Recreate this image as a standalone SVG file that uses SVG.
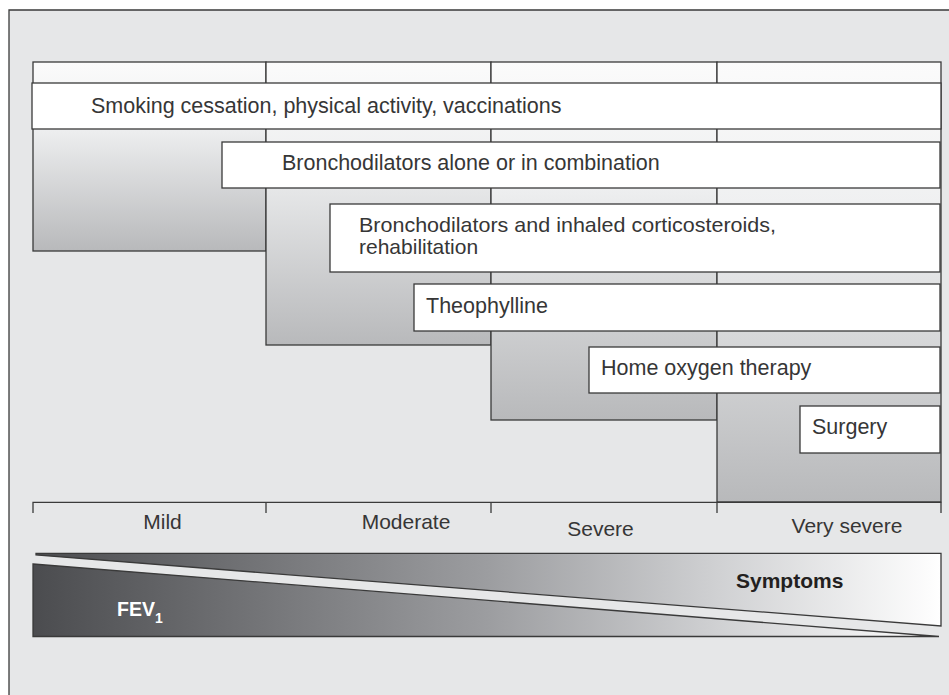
<svg xmlns="http://www.w3.org/2000/svg" width="949" height="695" viewBox="0 0 949 695">
<style>
.col{stroke:#3a3a3a;stroke-width:1.3;fill:url(#colGrad)}
.bar{fill:#ffffff;stroke:#3a3a3a;stroke-width:1.3}
.t{font-family:"Liberation Sans",Arial,Helvetica,sans-serif;font-size:21.5px;fill:#363636}
.t2{font-family:"Liberation Sans",Arial,Helvetica,sans-serif;font-size:21px;fill:#363636}
.ax{font-family:"Liberation Sans",Arial,Helvetica,sans-serif;font-size:21px;fill:#363636;text-anchor:middle}
.ln{stroke:#3a3a3a;stroke-width:1.3;fill:none}
</style>
<defs>
<linearGradient id="colGrad" x1="0" y1="0" x2="0" y2="1">
<stop offset="0" stop-color="#fbfbfb"/>
<stop offset="0.35" stop-color="#eeeff0"/>
<stop offset="1" stop-color="#b8b9bb"/>
</linearGradient>
<linearGradient id="hGrad" gradientUnits="userSpaceOnUse" x1="33" y1="0" x2="941" y2="0">
<stop offset="0" stop-color="#4b4c4f"/>
<stop offset="0.5" stop-color="#9c9da0"/>
<stop offset="0.75" stop-color="#cfd0d2"/>
<stop offset="1" stop-color="#ffffff"/>
</linearGradient>
</defs>
<rect x="0" y="0" width="949" height="695" fill="#ffffff"/>
<rect x="9" y="10" width="945" height="690" fill="#e6e7e8"/>
<path class="ln" d="M9,700 V10 H950"/>

<g id="col-mild"><rect class="col" x="33" y="62" width="233" height="189"/></g>
<g id="col-moderate"><rect class="col" x="266" y="62" width="225" height="283"/></g>
<g id="col-severe"><rect class="col" x="491" y="62" width="226" height="358"/></g>
<g id="col-verysevere"><rect class="col" x="717" y="62" width="224" height="440"/></g>

<g id="bar-smoking"><rect class="bar" x="32" y="83" width="909" height="46"/><text class="t" x="91" y="112.5">Smoking cessation, physical activity, vaccinations</text></g>
<g id="bar-broncho"><rect class="bar" x="222" y="142" width="718" height="46"/><text class="t" x="282" y="170">Bronchodilators alone or in combination</text></g>
<g id="bar-ics"><rect class="bar" x="330" y="204" width="610" height="68"/><text class="t2" x="359" y="231.8" textLength="417" lengthAdjust="spacingAndGlyphs">Bronchodilators and inhaled corticosteroids,</text><text class="t2" x="359" y="254">rehabilitation</text></g>
<g id="bar-theo"><rect class="bar" x="414" y="284" width="526" height="47"/><text class="t" x="426" y="312.7">Theophylline</text></g>
<g id="bar-oxygen"><rect class="bar" x="589" y="347" width="351" height="46"/><text class="t" x="601" y="375">Home oxygen therapy</text></g>
<g id="bar-surgery"><rect class="bar" x="800" y="406" width="140" height="47"/><text class="t" x="812" y="434.3">Surgery</text></g>

<g id="axis">
<path class="ln" d="M33,513 V502.3 H941 V513 M266,502.3 V513 M491,502.3 V513 M717,502.3 V513"/>
<text class="ax" x="162.5" y="529">Mild</text>
<text class="ax" x="406" y="529">Moderate</text>
<text class="ax" x="600.5" y="535.7">Severe</text>
<text class="ax" x="847" y="532.7">Very severe</text>
</g>

<g id="symptoms">
<polygon points="36,553.3 941,553.3 941,626 36,555" fill="url(#hGrad)" stroke="#3a3a3a" stroke-width="1.3"/>
<text x="736" y="588" font-family="'Liberation Sans',Arial,Helvetica,sans-serif" font-size="21" font-weight="bold" fill="#231f20">Symptoms</text>
</g>
<g id="fev1">
<polygon points="33,564 939,636.5 33,636.5" fill="url(#hGrad)" stroke="#3a3a3a" stroke-width="1.3"/>
<text x="117" y="616" font-family="'Liberation Sans',Arial,Helvetica,sans-serif" font-size="19.5" font-weight="bold" fill="#ffffff">FEV<tspan font-size="14" dy="7">1</tspan></text>
</g>
</svg>
